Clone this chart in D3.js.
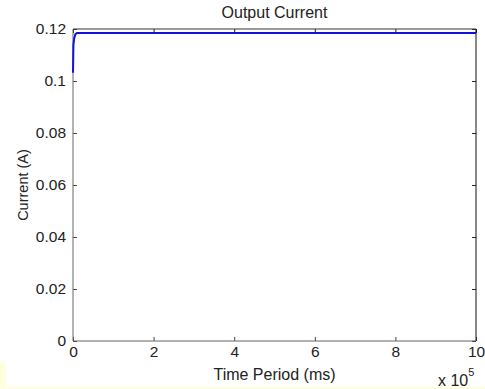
<!DOCTYPE html>
<html>
<head>
<meta charset="utf-8">
<script src="https://cdn.jsdelivr.net/npm/d3@7"></script>
<style>
  body { margin: 0; background: #ffffe0; }
  svg { display: block; }
  text { font-family: "Liberation Sans", Arial, sans-serif; fill: #222; }
</style>
</head>
<body>
<div id="chart"></div>
<script>
// time in units of 1e5 ms, current in A
const timeE5 = [0, 0.01, 0.03, 0.06, 0.1, 10];
const currentA = [0.1032, 0.1138, 0.1165, 0.118, 0.1185, 0.1185];
const xTicks = [0, 2, 4, 6, 8, 10];
const yTicks = [0, 0.02, 0.04, 0.06, 0.08, 0.1, 0.12];

const W = 485, H = 389;
const plot = {left: 73, right: 476, top: 29, bottom: 341};

const svg = d3.select("#chart").append("svg")
    .attr("width", W).attr("height", H);

// white picture area, yellow peeks out at left bottom and bottom edge
svg.append("rect").attr("x", 0).attr("y", 0).attr("width", W).attr("height", H).attr("fill", "#ffffe0");
svg.append("rect").attr("x", 6).attr("y", 0).attr("width", W - 6).attr("height", 387).attr("fill", "#fff");
svg.append("rect").attr("x", 0).attr("y", 0).attr("width", 6).attr("height", 362).attr("fill", "#fff");

var x = d3.scaleLinear().domain([0, 10]).range([plot.left, plot.right]);
var y = d3.scaleLinear().domain([0, 0.12]).range([plot.bottom, plot.top]);

var fmtY = d => d === 0 ? "0" : String(+d.toFixed(2));

// bottom axis
svg.append("g")
    .attr("transform", "translate(0," + plot.bottom + ")")
    .call(d3.axisBottom(x).tickValues(xTicks).tickSizeInner(-4).tickSizeOuter(0).tickPadding(5))
    .call(g => g.select(".domain").remove())
    .call(g => g.selectAll("line").attr("stroke", "#444"))
    .call(g => g.selectAll("text").attr("font-size", 15.5).attr("fill", "#222"));

// left axis
svg.append("g")
    .attr("transform", "translate(" + plot.left + ",0)")
    .call(d3.axisLeft(y).tickValues(yTicks).tickFormat(fmtY).tickSizeInner(-4).tickSizeOuter(0).tickPadding(7))
    .call(g => g.select(".domain").remove())
    .call(g => g.selectAll("line").attr("stroke", "#444"))
    .call(g => g.selectAll("text").attr("font-size", 15.5).attr("fill", "#222"));

// top and right ticks (box)
svg.append("g")
    .attr("transform", "translate(0," + plot.top + ")")
    .call(d3.axisTop(x).tickValues(xTicks).tickSizeInner(-4).tickSizeOuter(0).tickFormat(""))
    .call(g => g.select(".domain").remove())
    .call(g => g.selectAll("line").attr("stroke", "#222"));
svg.append("g")
    .attr("transform", "translate(" + plot.right + ",0)")
    .call(d3.axisRight(y).tickValues(yTicks).tickSizeInner(-4).tickSizeOuter(0).tickFormat(""))
    .call(g => g.select(".domain").remove())
    .call(g => g.selectAll("line").attr("stroke", "#222"));

// box edges
svg.append("line").attr("x1", plot.left).attr("x2", plot.right).attr("y1", plot.top).attr("y2", plot.top).attr("stroke", "#333");
svg.append("line").attr("x1", plot.right).attr("x2", plot.right).attr("y1", plot.top).attr("y2", plot.bottom).attr("stroke", "#111");
svg.append("line").attr("x1", plot.left).attr("x2", plot.right).attr("y1", plot.bottom).attr("y2", plot.bottom).attr("stroke", "#666");
svg.append("line").attr("x1", plot.left).attr("x2", plot.left).attr("y1", plot.top).attr("y2", plot.bottom).attr("stroke", "#666");

// data line
var pts = timeE5.map((t, i) => [t, currentA[i]]);
svg.append("path")
    .datum(pts)
    .attr("fill", "none")
    .attr("stroke", "#1212d8")
    .attr("stroke-width", 2)
    .attr("d", d3.line().x(d => x(d[0])).y(d => y(d[1])));

// labels
svg.append("text").attr("x", (plot.left + plot.right) / 2).attr("y", 18)
    .attr("text-anchor", "middle").attr("font-size", 16).text("Output Current");
svg.append("text").attr("x", (plot.left + plot.right) / 2).attr("y", 380)
    .attr("text-anchor", "middle").attr("font-size", 16).text("Time Period (ms)");
svg.append("text").attr("transform", "translate(28," + (plot.top + plot.bottom) / 2 + ") rotate(-90)")
    .attr("text-anchor", "middle").attr("font-size", 14.5).text("Current (A)");

var ex = svg.append("text").attr("x", 438).attr("y", 386).attr("font-size", 16);
ex.append("tspan").text("x 10");
ex.append("tspan").attr("dy", -10).attr("font-size", 11).text("5");
</script>
</body>
</html>
